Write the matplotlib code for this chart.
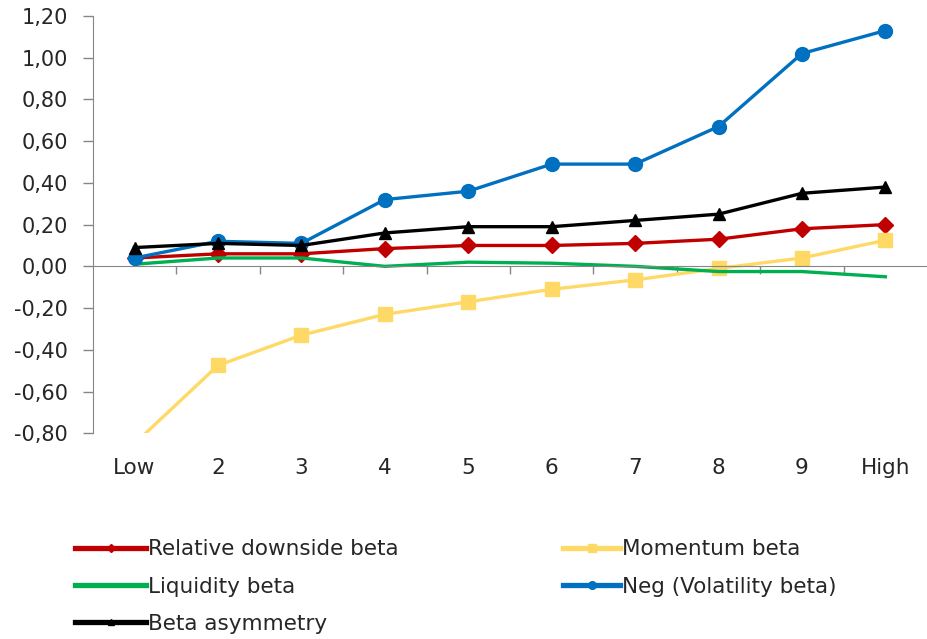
import matplotlib
matplotlib.use("Agg")
import matplotlib.pyplot as plt
from matplotlib.lines import Line2D
import numpy as np

plt.rcParams['font.family'] = ['DejaVu Sans']

# data
categories = ["Low", "2", "3", "4", "5", "6", "7", "8", "9", "High"]
rel_downside = [0.04, 0.06, 0.06, 0.085, 0.10, 0.10, 0.11, 0.13, 0.18, 0.20]
momentum = [-0.85, -0.475, -0.33, -0.23, -0.17, -0.11, -0.065, -0.01, 0.04, 0.125]
liquidity = [0.01, 0.04, 0.04, 0.00, 0.02, 0.015, 0.00, -0.025, -0.025, -0.05]
neg_vol = [0.04, 0.12, 0.11, 0.32, 0.36, 0.49, 0.49, 0.67, 1.02, 1.13]
beta_asym = [0.09, 0.11, 0.10, 0.16, 0.19, 0.19, 0.22, 0.25, 0.35, 0.38]
yticks = [-0.8, -0.6, -0.4, -0.2, 0.0, 0.2, 0.4, 0.6, 0.8, 1.0, 1.2]

x = np.arange(len(categories))
fs_y = 15
fs = 15.5
txt = '#262626'

fig = plt.figure(figsize=(9.28, 6.39), dpi=100)
ax = fig.add_axes([0.100, 0.322, 0.899, 0.653])

series = [
    (rel_downside, '#C00000', 'D', 8, 'Relative downside beta'),
    (momentum, '#FFD966', 's', 10, 'Momentum beta'),
    (liquidity, '#00B050', None, 0, 'Liquidity beta'),
    (neg_vol, '#0070C0', 'o', 10, 'Neg (Volatility beta)'),
    (beta_asym, 'black', '^', 9, 'Beta asymmetry'),
]
handles = {}
for vals, col, mk, ms, name in series:
    ax.plot(x, vals, color=col, lw=2.4, marker=mk, ms=ms)
    handles[name] = Line2D([], [], color=col, lw=3.8, marker=mk, ms=ms * 0.55, label=name)

ax.set_xlim(-0.5, 9.5)
ax.set_ylim(-0.8, 1.2)
ax.set_yticks(yticks)
ax.set_yticklabels([f"{v:.2f}".replace('.', ',') for v in yticks], fontsize=fs_y, color=txt)
ax.tick_params(axis='y', direction='out', length=7, width=1, color='#868686', pad=11)

for s in ['top', 'right']:
    ax.spines[s].set_visible(False)
ax.spines['left'].set_color('#868686')
ax.spines['bottom'].set_color('#868686')
ax.spines['bottom'].set_position(('data', 0))

# category boundary ticks on the zero line
ax.set_xticks(np.arange(0.5, 9.0, 1.0))
ax.set_xticklabels([])
ax.tick_params(axis='x', direction='out', length=6, width=1, color='#868686')

# category labels under the plot
sec = ax.secondary_xaxis(0)
sec.set_xticks(x)
sec.set_xticklabels(categories, fontsize=fs, color=txt)
sec.tick_params(length=0, pad=18)
sec.spines['bottom'].set_visible(False)

leg_kw = dict(loc='upper left', frameon=False, fontsize=fs,
              handletextpad=0.1, labelspacing=0.8, borderpad=0, borderaxespad=0,
              labelcolor=txt)
fig.legend(handles=[handles['Relative downside beta'], handles['Liquidity beta'],
                    handles['Beta asymmetry']],
           bbox_to_anchor=(0.081, 0.156), handlelength=3.3, **leg_kw)
fig.legend(handles=[handles['Momentum beta'], handles['Neg (Volatility beta)']],
           bbox_to_anchor=(0.607, 0.156), handlelength=2.65, **leg_kw)

fig.savefig("out.png", dpi=100)
